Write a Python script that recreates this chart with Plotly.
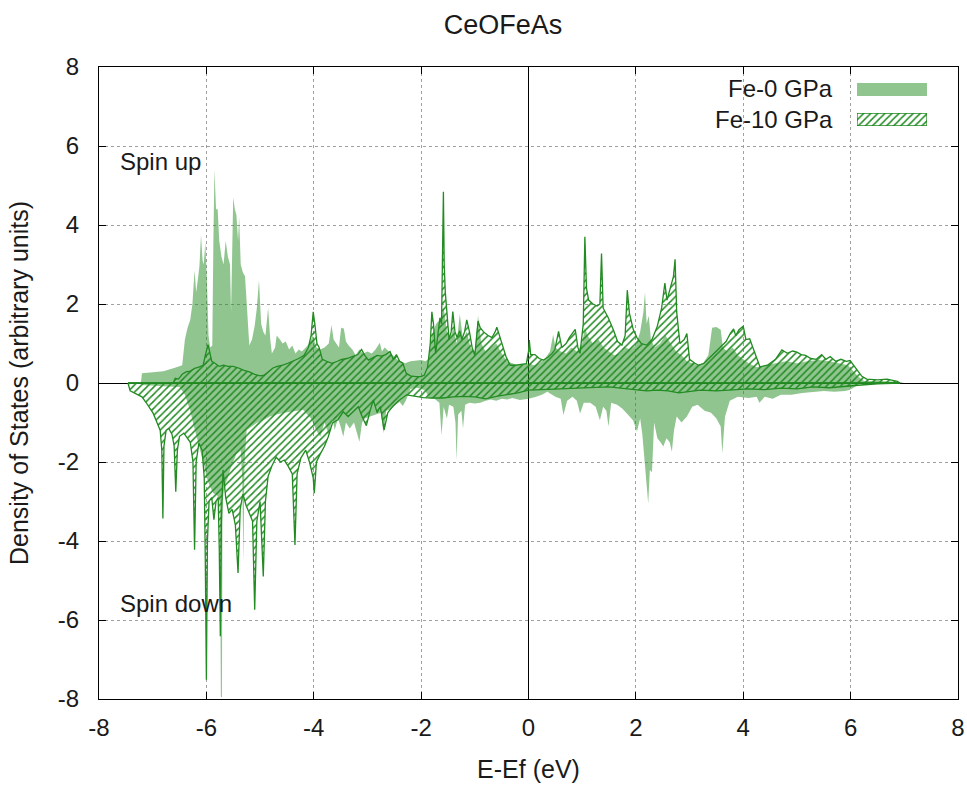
import plotly.graph_objects as go

title_text = "CeOFeAs"
x_label = "E-Ef (eV)"
y_label = "Density of States (arbitrary units)"
series_names = ["Fe-0 GPa", "Fe-10 GPa"]
panel_labels = ["Spin up", "Spin down"]

x_ticks = [-8, -6, -4, -2, 0, 2, 4, 6, 8]
x_tick_labels = ["-8", "-6", "-4", "-2", "0", "2", "4", "6", "8"]
y_ticks = [-8, -6, -4, -2, 0, 2, 4, 6, 8]
y_tick_labels = ["-8", "-6", "-4", "-2", "0", "2", "4", "6", "8"]

# (energy eV, DOS) pairs
fe0_up = [
    (-7.22, 0), (-7.2, 0.25), (-7.0, 0.27), (-6.8, 0.3), (-6.6, 0.38), (-6.45, 0.45),
    (-6.40, 1.1), (-6.35, 1.4), (-6.30, 1.6), (-6.26, 2.0), (-6.22, 2.85), (-6.19, 2.3),
    (-6.16, 2.6), (-6.13, 2.95), (-6.10, 3.75), (-6.07, 3.1), (-6.05, 3.0), (-6.02, 3.55),
    (-5.99, 2.6), (-5.96, 1.2), (-5.93, 0.9), (-5.89, 0.95), (-5.87, 3.5), (-5.85, 5.4),
    (-5.82, 4.4), (-5.79, 4.4), (-5.76, 3.6), (-5.72, 3.2), (-5.68, 3.0), (-5.64, 3.6),
    (-5.60, 3.2), (-5.56, 3.0), (-5.54, 1.8), (-5.52, 3.5), (-5.50, 4.7), (-5.47, 4.4),
    (-5.44, 4.25), (-5.41, 3.6), (-5.39, 4.2), (-5.36, 3.0), (-5.32, 2.8), (-5.28, 2.7),
    (-5.24, 1.9), (-5.20, 0.95), (-5.15, 1.1), (-5.10, 1.45), (-5.06, 1.9), (-5.02, 2.6),
    (-4.98, 1.5), (-4.94, 1.3), (-4.90, 1.2), (-4.85, 1.9), (-4.81, 1.1), (-4.78, 0.75),
    (-4.72, 0.9), (-4.69, 1.2), (-4.63, 1.1), (-4.58, 1.0), (-4.52, 1.05), (-4.46, 0.85),
    (-4.40, 0.95), (-4.34, 0.75), (-4.28, 0.85), (-4.22, 0.8), (-4.15, 0.9), (-4.08, 1.0),
    (-4.02, 1.2), (-3.95, 0.9), (-3.88, 0.85), (-3.80, 0.9), (-3.72, 1.0), (-3.67, 1.47),
    (-3.63, 1.1), (-3.58, 1.0), (-3.53, 0.9), (-3.49, 1.4), (-3.44, 1.38), (-3.40, 1.05),
    (-3.35, 0.95), (-3.28, 0.85), (-3.22, 0.7), (-3.15, 0.85), (-3.08, 0.75), (-3.00, 0.8),
    (-2.92, 0.75), (-2.85, 0.85), (-2.80, 0.95), (-2.77, 1.02), (-2.73, 0.8), (-2.68, 0.9),
    (-2.60, 0.8), (-2.52, 0.7), (-2.45, 0.6), (-2.38, 0.55), (-2.30, 0.5), (-2.20, 0.55),
    (-2.10, 0.57), (-2.00, 0.58), (-1.92, 0.55), (-1.87, 0.6), (-1.80, 1.2), (-1.72, 1.5),
    (-1.65, 1.6), (-1.58, 1.9), (-1.52, 1.3), (-1.46, 1.1), (-1.40, 1.4), (-1.34, 1.0),
    (-1.28, 1.74), (-1.22, 1.1), (-1.15, 1.3), (-1.08, 0.9), (-1.00, 0.8), (-0.94, 1.7),
    (-0.88, 1.0), (-0.80, 0.8), (-0.70, 0.9), (-0.60, 1.0), (-0.50, 0.75), (-0.40, 0.55),
    (-0.30, 0.5), (-0.20, 0.45), (-0.10, 0.48), (0.0, 0.5), (0.1, 0.45), (0.2, 0.5),
    (0.3, 0.6), (0.40, 0.8), (0.46, 1.23), (0.50, 0.9), (0.60, 0.8), (0.70, 0.75),
    (0.80, 0.9), (0.90, 0.8), (1.00, 1.0), (1.05, 1.4), (1.10, 1.2), (1.20, 1.0),
    (1.30, 1.1), (1.40, 0.9), (1.50, 0.8), (1.60, 0.7), (1.70, 0.75), (1.80, 0.9),
    (1.90, 0.85), (2.00, 0.95), (2.08, 1.3), (2.14, 1.8), (2.17, 2.3), (2.20, 1.5),
    (2.24, 1.7), (2.28, 1.1), (2.35, 0.9), (2.45, 1.0), (2.55, 1.2), (2.65, 1.0),
    (2.75, 0.8), (2.85, 0.7), (2.95, 0.55), (3.05, 0.5), (3.15, 0.45), (3.25, 0.5),
    (3.35, 0.7), (3.42, 1.4), (3.50, 1.42), (3.58, 1.35), (3.62, 0.9), (3.70, 0.8),
    (3.80, 0.9), (3.90, 0.7), (4.00, 0.6), (4.10, 0.5), (4.25, 0.4), (4.40, 0.45),
    (4.60, 0.5), (4.80, 0.55), (5.00, 0.5), (5.20, 0.55), (5.40, 0.58), (5.60, 0.55),
    (5.80, 0.5), (5.95, 0.45), (6.05, 0.3), (6.15, 0.15), (6.25, 0.05), (6.5, 0.05),
    (6.9, 0.03), (7.0, 0),
]

fe0_down = [
    (-7.22, 0), (-7.2, -0.05), (-6.8, -0.08), (-6.5, -0.1), (-6.4, -0.3), (-6.3, -0.7),
    (-6.25, -1.0), (-6.18, -1.36), (-6.10, -1.8), (-6.04, -2.1), (-6.00, -2.37),
    (-5.94, -2.6), (-5.87, -2.79), (-5.80, -2.84), (-5.75, -3.0), (-5.73, -7.95),
    (-5.71, -7.95), (-5.70, -3.0), (-5.66, -2.6), (-5.60, -2.4), (-5.56, -2.2),
    (-5.50, -2.0), (-5.44, -1.8), (-5.36, -1.7), (-5.33, -2.5), (-5.31, -4.56),
    (-5.29, -2.0), (-5.25, -1.19), (-5.15, -1.1), (-5.05, -1.0), (-4.95, -0.95),
    (-4.82, -0.85), (-4.70, -0.8), (-4.55, -0.75), (-4.40, -0.72), (-4.20, -0.68),
    (-4.05, -0.9), (-3.95, -1.2), (-3.88, -1.36), (-3.80, -1.0), (-3.72, -1.3),
    (-3.65, -0.9), (-3.61, -1.19), (-3.55, -0.9), (-3.50, -1.1), (-3.45, -1.36),
    (-3.40, -1.0), (-3.33, -1.15), (-3.25, -1.0), (-3.15, -1.49), (-3.10, -1.0),
    (-3.05, -0.9), (-2.95, -0.85), (-2.85, -0.8), (-2.75, -0.75), (-2.70, -1.27),
    (-2.65, -0.7), (-2.55, -0.65), (-2.48, -0.55), (-2.40, -0.48), (-2.34, -0.58),
    (-2.28, -0.43), (-2.20, -0.15), (-2.10, -0.12), (-2.00, -0.14), (-1.92, -0.2),
    (-1.85, -0.38), (-1.75, -0.4), (-1.66, -0.5), (-1.62, -1.32), (-1.58, -0.6),
    (-1.52, -0.9), (-1.48, -0.55), (-1.40, -0.6), (-1.36, -1.0), (-1.34, -1.95),
    (-1.31, -0.8), (-1.25, -0.7), (-1.22, -1.15), (-1.18, -0.55), (-1.10, -0.5),
    (-1.00, -0.52), (-0.90, -0.5), (-0.80, -0.45), (-0.70, -0.42), (-0.60, -0.45),
    (-0.50, -0.4), (-0.40, -0.42), (-0.30, -0.38), (-0.16, -0.43), (0.0, -0.4),
    (0.14, -0.35), (0.25, -0.3), (0.35, -0.22), (0.50, -0.35), (0.60, -0.4),
    (0.65, -0.81), (0.72, -0.45), (0.82, -0.35), (0.90, -0.45), (0.96, -0.77),
    (1.03, -0.5), (1.15, -0.5), (1.25, -0.6), (1.33, -0.94), (1.39, -0.6), (1.45, -0.7),
    (1.49, -1.1), (1.54, -0.5), (1.65, -0.55), (1.75, -0.65), (1.85, -0.8), (1.95, -0.95),
    (2.02, -1.23), (2.08, -0.9), (2.12, -1.3), (2.17, -2.12), (2.20, -2.5), (2.23, -3.05),
    (2.26, -2.2), (2.30, -2.25), (2.34, -1.0), (2.40, -1.4), (2.46, -1.5), (2.51, -1.61),
    (2.57, -1.4), (2.63, -1.5), (2.67, -1.74), (2.71, -1.2), (2.76, -0.85), (2.85, -1.0),
    (2.95, -0.85), (3.05, -0.6), (3.15, -0.55), (3.28, -0.7), (3.40, -0.75), (3.50, -0.9),
    (3.58, -1.1), (3.61, -1.78), (3.66, -0.85), (3.75, -0.45), (3.90, -0.35),
    (4.10, -0.38), (4.25, -0.35), (4.30, -0.5), (4.40, -0.35), (4.55, -0.4), (4.70, -0.3),
    (4.90, -0.3), (5.10, -0.25), (5.30, -0.22), (5.50, -0.2), (5.70, -0.22), (5.90, -0.2),
    (5.99, -0.17), (6.10, -0.08), (6.20, 0),
]

fe10_up = [
    (-7.46, 0), (-6.62, 0.0), (-6.58, 0.12), (-6.52, 0.1), (-6.45, 0.22), (-6.38, 0.28),
    (-6.30, 0.3), (-6.22, 0.37), (-6.14, 0.4), (-6.06, 0.45), (-6.02, 0.7), (-5.99, 0.92),
    (-5.97, 0.97), (-5.94, 0.8), (-5.90, 0.55), (-5.84, 0.5), (-5.76, 0.42), (-5.68, 0.45),
    (-5.60, 0.42), (-5.50, 0.42), (-5.40, 0.38), (-5.30, 0.32), (-5.20, 0.28), (-5.10, 0.22),
    (-5.00, 0.18), (-4.92, 0.2), (-4.84, 0.3), (-4.76, 0.38), (-4.68, 0.42), (-4.58, 0.45),
    (-4.48, 0.5), (-4.38, 0.55), (-4.28, 0.62), (-4.18, 0.7), (-4.10, 0.9), (-4.05, 1.2),
    (-4.01, 1.8), (-3.98, 1.5), (-3.94, 1.0), (-3.90, 0.9), (-3.84, 0.6), (-3.76, 0.55),
    (-3.66, 0.5), (-3.56, 0.55), (-3.48, 0.6), (-3.38, 0.62), (-3.28, 0.67), (-3.18, 0.72),
    (-3.11, 0.85), (-3.05, 0.7), (-2.98, 0.58), (-2.90, 0.65), (-2.82, 0.7), (-2.74, 0.68),
    (-2.66, 0.72), (-2.58, 0.8), (-2.52, 0.6), (-2.46, 0.72), (-2.40, 0.55), (-2.34, 0.5),
    (-2.28, 0.25), (-2.20, 0.18), (-2.10, 0.16), (-2.00, 0.16), (-1.94, 0.2), (-1.88, 0.4),
    (-1.83, 1.0), (-1.80, 1.8), (-1.77, 1.5), (-1.73, 0.75), (-1.69, 1.2), (-1.65, 1.65),
    (-1.62, 1.5), (-1.60, 3.0), (-1.585, 4.84), (-1.57, 3.0), (-1.55, 2.3), (-1.52, 1.8),
    (-1.48, 1.1), (-1.44, 1.3), (-1.41, 1.81), (-1.37, 1.3), (-1.33, 1.15), (-1.28, 1.32),
    (-1.24, 1.1), (-1.19, 1.3), (-1.15, 1.6), (-1.10, 1.3), (-1.05, 0.9), (-1.00, 0.7),
    (-0.96, 1.3), (-0.94, 1.57), (-0.90, 1.4), (-0.84, 1.3), (-0.76, 1.21), (-0.68, 1.15),
    (-0.62, 1.3), (-0.59, 1.41), (-0.54, 1.2), (-0.48, 0.9), (-0.42, 0.67), (-0.34, 0.45),
    (-0.24, 0.45), (-0.14, 0.47), (-0.04, 0.49), (0.0, 0.8), (0.015, 1.09), (0.04, 0.72),
    (0.12, 0.72), (0.2, 0.62), (0.28, 0.58), (0.36, 0.65), (0.44, 0.75), (0.49, 0.84),
    (0.56, 1.31), (0.62, 0.9), (0.70, 1.0), (0.76, 1.15), (0.82, 1.25), (0.87, 1.36),
    (0.92, 0.9), (0.96, 0.75), (1.02, 1.5), (1.05, 3.70), (1.08, 2.4), (1.12, 2.1),
    (1.20, 2.0), (1.28, 1.95), (1.33, 2.0), (1.36, 3.28), (1.39, 1.9), (1.45, 1.75),
    (1.49, 1.64), (1.58, 1.35), (1.66, 1.05), (1.74, 0.96), (1.80, 1.2), (1.84, 2.35),
    (1.88, 1.77), (1.95, 1.36), (2.02, 1.15), (2.10, 1.0), (2.20, 0.96), (2.30, 1.1),
    (2.40, 1.44), (2.48, 1.9), (2.54, 2.53), (2.58, 2.1), (2.62, 2.3), (2.66, 2.5),
    (2.70, 2.7), (2.73, 3.13), (2.76, 1.8), (2.82, 1.0), (2.90, 1.1), (2.95, 1.25),
    (3.00, 0.6), (3.10, 0.5), (3.17, 0.45), (3.27, 0.5), (3.36, 0.62), (3.44, 0.72),
    (3.52, 0.85), (3.60, 0.95), (3.68, 1.05), (3.76, 1.26), (3.82, 1.37), (3.86, 1.2),
    (3.92, 1.35), (4.00, 1.44), (4.05, 1.1), (4.12, 1.12), (4.20, 0.8), (4.31, 0.41),
    (4.45, 0.45), (4.60, 0.6), (4.72, 0.84), (4.82, 0.75), (4.92, 0.81), (5.00, 0.78),
    (5.08, 0.72), (5.16, 0.7), (5.26, 0.62), (5.36, 0.6), (5.46, 0.72), (5.54, 0.6),
    (5.62, 0.67), (5.72, 0.55), (5.82, 0.6), (5.92, 0.55), (5.99, 0.57), (6.08, 0.41),
    (6.15, 0.3), (6.21, 0.17), (6.30, 0.1), (6.50, 0.08), (6.68, 0.1), (6.80, 0.06),
    (6.87, 0.04), (6.92, 0),
]

fe10_down = [
    (-7.46, 0), (-7.42, -0.2), (-7.30, -0.28), (-7.20, -0.35), (-7.12, -0.5), (-7.04, -0.65),
    (-6.99, -0.77), (-6.92, -1.0), (-6.86, -1.2), (-6.83, -1.7), (-6.81, -3.43), (-6.79, -1.6),
    (-6.75, -1.2), (-6.70, -1.15), (-6.64, -1.3), (-6.60, -1.6), (-6.57, -2.75), (-6.54, -1.7),
    (-6.50, -1.35), (-6.42, -1.27), (-6.36, -1.4), (-6.30, -1.5), (-6.25, -2.0), (-6.22, -4.22),
    (-6.19, -2.0), (-6.14, -1.52), (-6.08, -1.7), (-6.04, -2.4), (-6.02, -4.5), (-6.00, -7.51),
    (-5.98, -4.0), (-5.95, -3.0), (-5.90, -2.9), (-5.86, -3.46), (-5.82, -3.0), (-5.78, -2.9),
    (-5.76, -4.2), (-5.74, -6.41), (-5.72, -3.5), (-5.69, -2.2), (-5.64, -2.9), (-5.58, -3.3),
    (-5.52, -3.2), (-5.46, -3.6), (-5.41, -4.81), (-5.37, -3.2), (-5.32, -2.81), (-5.26, -3.1),
    (-5.20, -3.3), (-5.14, -3.5), (-5.10, -5.74), (-5.06, -3.5), (-5.00, -3.0), (-4.94, -4.9),
    (-4.90, -3.0), (-4.85, -2.36), (-4.78, -2.1), (-4.70, -1.88), (-4.62, -2.0), (-4.55, -1.95),
    (-4.48, -2.1), (-4.40, -2.3), (-4.35, -4.1), (-4.31, -2.3), (-4.24, -1.9), (-4.15, -1.7),
    (-4.08, -2.0), (-4.01, -2.4), (-3.99, -2.79), (-3.95, -2.0), (-3.88, -1.8), (-3.80, -1.6),
    (-3.73, -1.36), (-3.65, -1.01), (-3.55, -0.93), (-3.45, -0.73), (-3.36, -0.85),
    (-3.25, -0.7), (-3.17, -0.6), (-3.10, -0.85), (-3.02, -1.08), (-2.95, -0.7),
    (-2.89, -0.43), (-2.82, -0.75), (-2.76, -0.6), (-2.69, -1.19), (-2.62, -0.75),
    (-2.52, -0.58), (-2.42, -0.45), (-2.27, -0.3), (-2.12, -0.33), (-1.96, -0.37),
    (-1.80, -0.38), (-1.60, -0.38), (-1.40, -0.35), (-1.20, -0.34), (-1.00, -0.35),
    (-0.80, -0.4), (-0.60, -0.34), (-0.40, -0.3), (-0.20, -0.25), (0.0, -0.18), (0.3, -0.17),
    (0.6, -0.15), (0.9, -0.13), (1.2, -0.12), (1.5, -0.1), (1.8, -0.14), (2.0, -0.17),
    (2.2, -0.2), (2.4, -0.18), (2.6, -0.2), (2.8, -0.25), (3.0, -0.22), (3.2, -0.18),
    (3.5, -0.2), (3.8, -0.17), (4.1, -0.15), (4.4, -0.17), (4.7, -0.13), (5.0, -0.15),
    (5.3, -0.1), (5.6, -0.12), (5.9, -0.08), (6.2, -0.05), (6.5, -0.02), (6.92, 0),
]

GREEN = "#228b22"
LIGHT = "rgba(34,139,34,0.5)"
FONT = "Liberation Sans, Arial, sans-serif"
TXT = "#1a1a1a"

W, H = 967, 786
ML, MR, MT, MB = 99, 9, 67, 87
PW, PH = W - ML - MR, H - MT - MB


def unzip(pairs):
    return [p[0] for p in pairs], [p[1] for p in pairs]


def px_to_paper_x(px):
    return (px - ML) / PW


def px_to_paper_y(py):
    return (H - MB - py) / PH


pattern = dict(shape="/", fgcolor=GREEN, bgcolor="rgba(0,0,0,0)", size=5,
               solidity=0.3, fillmode="replace")

fig = go.Figure()

for series in (fe0_up, fe0_down):
    ex, dy = unzip(series)
    fig.add_trace(go.Scatter(x=ex, y=dy, mode="lines", line=dict(width=0, color=LIGHT),
                             fill="tozeroy", fillcolor=LIGHT, name=series_names[0],
                             showlegend=False, hoverinfo="skip"))

for series in (fe10_up, fe10_down):
    ex, dy = unzip(series)
    ex = ex + ex[:1]
    dy = dy + dy[:1]
    fig.add_trace(go.Scatter(x=ex, y=dy, mode="lines", line=dict(width=1.3, color=GREEN),
                             fill="toself", fillcolor="rgba(0,0,0,0)", fillpattern=pattern,
                             name=series_names[1], showlegend=False, hoverinfo="skip"))

# legend key for the hatched series, drawn on a small helper axis
fig.add_trace(go.Scatter(x=[0, 1, 1, 0, 0], y=[0, 0, 1, 1, 0], mode="lines",
                         line=dict(width=1.3, color=GREEN), fill="toself",
                         fillcolor="rgba(0,0,0,0)", fillpattern=pattern,
                         xaxis="x2", yaxis="y2", showlegend=False, hoverinfo="skip"))

axis_common = dict(
    showline=True, linecolor="black", linewidth=1, mirror="allticks",
    ticks="inside", ticklen=7, tickwidth=1, tickcolor="black",
    showgrid=True, gridcolor="#a0a0a0", gridwidth=1, griddash="3px,3px",
    zeroline=True, zerolinecolor="black", zerolinewidth=1,
    tickfont=dict(family=FONT, size=24, color=TXT),
    automargin=False,
)

fig.update_layout(
    width=W, height=H,
    margin=dict(l=ML, r=MR, t=MT, b=MB),
    paper_bgcolor="white", plot_bgcolor="white",
    showlegend=False,
    title=dict(text=title_text, x=503 / W, xanchor="center", y=1 - 25 / H, yanchor="middle",
               font=dict(family=FONT, size=27, color=TXT)),
    xaxis=dict(range=[-8, 8], tickvals=x_ticks, ticktext=x_tick_labels,
               ticklabelstandoff=7,
               title=dict(text=x_label, standoff=20, font=dict(family=FONT, size=25, color=TXT)),
               **axis_common),
    yaxis=dict(range=[-8, 8], tickvals=y_ticks, ticktext=y_tick_labels,
               ticklabelstandoff=14,
               title=dict(text=y_label, standoff=22, font=dict(family=FONT, size=25, color=TXT)),
               **axis_common),
    xaxis2=dict(domain=[px_to_paper_x(857), px_to_paper_x(927)], range=[0, 1], visible=False,
                fixedrange=True, anchor="y2"),
    yaxis2=dict(domain=[px_to_paper_y(126), px_to_paper_y(113)], range=[0, 1], visible=False,
                fixedrange=True, anchor="x2"),
)

# legend texts and solid key
fig.add_annotation(x=px_to_paper_x(835), y=px_to_paper_y(89), xref="paper", yref="paper",
                   text=series_names[0], showarrow=False, xanchor="right", yanchor="middle",
                   font=dict(family=FONT, size=24, color=TXT))
fig.add_annotation(x=px_to_paper_x(835), y=px_to_paper_y(119), xref="paper", yref="paper",
                   text=series_names[1], showarrow=False, xanchor="right", yanchor="middle",
                   font=dict(family=FONT, size=24, color=TXT))
fig.add_shape(type="rect", xref="paper", yref="paper", x0=px_to_paper_x(857),
              x1=px_to_paper_x(927), y0=px_to_paper_y(96), y1=px_to_paper_y(83),
              fillcolor=LIGHT, line=dict(width=0))

# spin labels
fig.add_annotation(x=-7.65, y=5.62, text=panel_labels[0], showarrow=False, xanchor="left",
                   yanchor="middle", font=dict(family=FONT, size=24, color=TXT))
fig.add_annotation(x=-7.65, y=-5.57, text=panel_labels[1], showarrow=False, xanchor="left",
                   yanchor="middle", font=dict(family=FONT, size=24, color=TXT))

fig.write_html("out.html")
